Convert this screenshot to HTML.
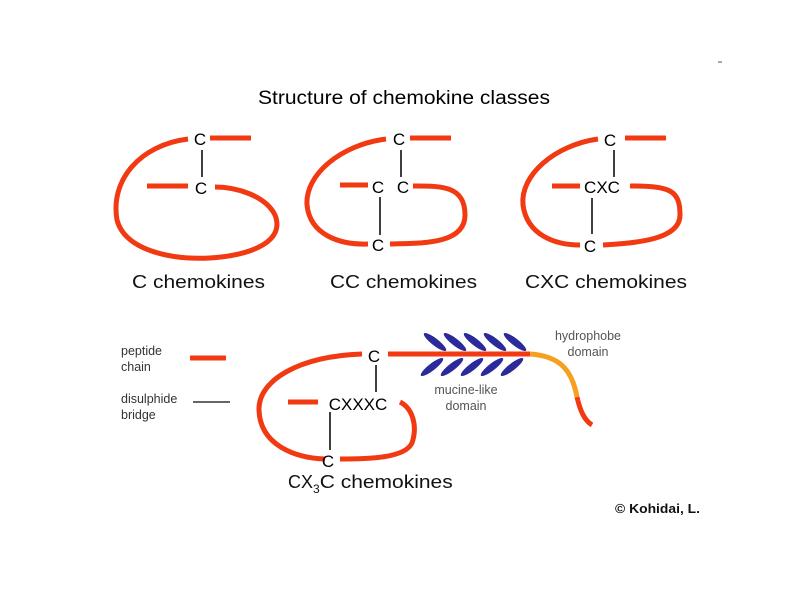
<!DOCTYPE html>
<html><head><style>body{margin:0;background:#fff}svg{display:block}</style></head><body>
<svg width="800" height="600" viewBox="0 0 800 600" xmlns="http://www.w3.org/2000/svg" font-family="Liberation Sans, sans-serif">
<rect width="800" height="600" fill="#fff"/>
<line x1="718" y1="62" x2="722" y2="62" stroke="#555" stroke-width="1"/>
<text x="258" y="104" font-size="19" fill="#000" textLength="292" lengthAdjust="spacingAndGlyphs">Structure of chemokine classes</text>
<g fill="none" stroke="#f23a12" stroke-width="5" stroke-linecap="butt">
<line x1="210" y1="138" x2="251" y2="138"/>
<path d="M188,139 C140,145 110,180 117,220 C125,250 170,260 210,258 C255,255 285,240 275,215 C265,195 235,187 215,187"/>
<line x1="147" y1="186" x2="188" y2="186"/>
<line x1="410" y1="138" x2="451" y2="138"/>
<path d="M386,139 C340,145 305,175 307,205 C310,235 340,245 368,244"/>
<line x1="340" y1="185" x2="368" y2="185"/>
<path d="M413,186 C440,186 465,185 465,215 C465,245 420,243 390,244"/>
<line x1="625" y1="138" x2="666" y2="138"/>
<path d="M598,139 C555,145 520,175 523,205 C527,235 555,245 580,245"/>
<line x1="552" y1="186" x2="580" y2="186"/>
<path d="M630,186 C670,186 680,190 680,215 C680,240 635,243 603,245"/>
<line x1="388" y1="354" x2="530" y2="354"/>
<path d="M362,354 C300,356 258,380 259,410 C260,445 295,458 325,459"/>
<line x1="288" y1="402" x2="318" y2="402"/>
<path d="M400,402 C412,408 418,425 412,443 C405,458 370,459 340,459"/>
<path d="M577,397 C580,410 584,420 592,425"/>
<line x1="190" y1="358" x2="226" y2="358"/>
</g>
<path d="M530,354 C560,356 572,370 577,397" fill="none" stroke="#f5a020" stroke-width="5"/>
<g stroke="#000" stroke-width="1.5">
<line x1="202" y1="150" x2="202" y2="177"/>
<line x1="401" y1="150" x2="401" y2="177"/>
<line x1="380" y1="197" x2="380" y2="235"/>
<line x1="614" y1="150" x2="614" y2="177"/>
<line x1="592" y1="198" x2="592" y2="234"/>
<line x1="376" y1="365" x2="376" y2="392"/>
<line x1="330" y1="412" x2="330" y2="450"/>
<line x1="193" y1="402" x2="230" y2="402" stroke="#333"/>
</g>
<g fill="#000" font-size="17" text-anchor="middle">
<text x="200" y="145">C</text><text x="201" y="194">C</text>
<text x="399" y="145">C</text><text x="378" y="193">C</text><text x="403" y="193">C</text><text x="378" y="251">C</text>
<text x="610" y="146">C</text><text x="602" y="193">CXC</text><text x="590" y="252">C</text>
<text x="374" y="362">C</text><text x="358" y="410">CXXXC</text><text x="328" y="467">C</text>
</g>
<g fill="#2a2a9a">
<ellipse cx="435" cy="342" rx="14" ry="3.5" transform="rotate(38 435 342)"/>
<ellipse cx="455" cy="342" rx="14" ry="3.5" transform="rotate(38 455 342)"/>
<ellipse cx="475" cy="342" rx="14" ry="3.5" transform="rotate(38 475 342)"/>
<ellipse cx="495" cy="342" rx="14" ry="3.5" transform="rotate(38 495 342)"/>
<ellipse cx="515" cy="342" rx="14" ry="3.5" transform="rotate(38 515 342)"/>
<ellipse cx="432" cy="367" rx="14" ry="3.5" transform="rotate(-38 432 367)"/>
<ellipse cx="452" cy="367" rx="14" ry="3.5" transform="rotate(-38 452 367)"/>
<ellipse cx="472" cy="367" rx="14" ry="3.5" transform="rotate(-38 472 367)"/>
<ellipse cx="492" cy="367" rx="14" ry="3.5" transform="rotate(-38 492 367)"/>
<ellipse cx="512" cy="367" rx="14" ry="3.5" transform="rotate(-38 512 367)"/>
</g>
<g fill="#111" font-size="18">
<text x="132" y="288" textLength="133" lengthAdjust="spacingAndGlyphs">C chemokines</text>
<text x="330" y="288" textLength="147" lengthAdjust="spacingAndGlyphs">CC chemokines</text>
<text x="525" y="288" textLength="162" lengthAdjust="spacingAndGlyphs">CXC chemokines</text>
<text x="288" y="488">CX<tspan font-size="12" dy="5">3</tspan><tspan dy="-5" textLength="133" lengthAdjust="spacingAndGlyphs">C chemokines</tspan></text>
</g>
<g fill="#333" font-size="12.5">
<text x="121" y="355">peptide</text><text x="121" y="371">chain</text>
<text x="121" y="403">disulphide</text><text x="121" y="419">bridge</text>
</g>
<g fill="#555" font-size="12.5" text-anchor="middle">
<text x="588" y="340">hydrophobe</text><text x="588" y="356">domain</text>
<text x="466" y="394">mucine-like</text><text x="466" y="410">domain</text>
</g>
<text x="615" y="513" font-size="12.5" font-weight="bold" fill="#111" textLength="85" lengthAdjust="spacingAndGlyphs">© Kohidai, L.</text>
</svg>
</body></html>
